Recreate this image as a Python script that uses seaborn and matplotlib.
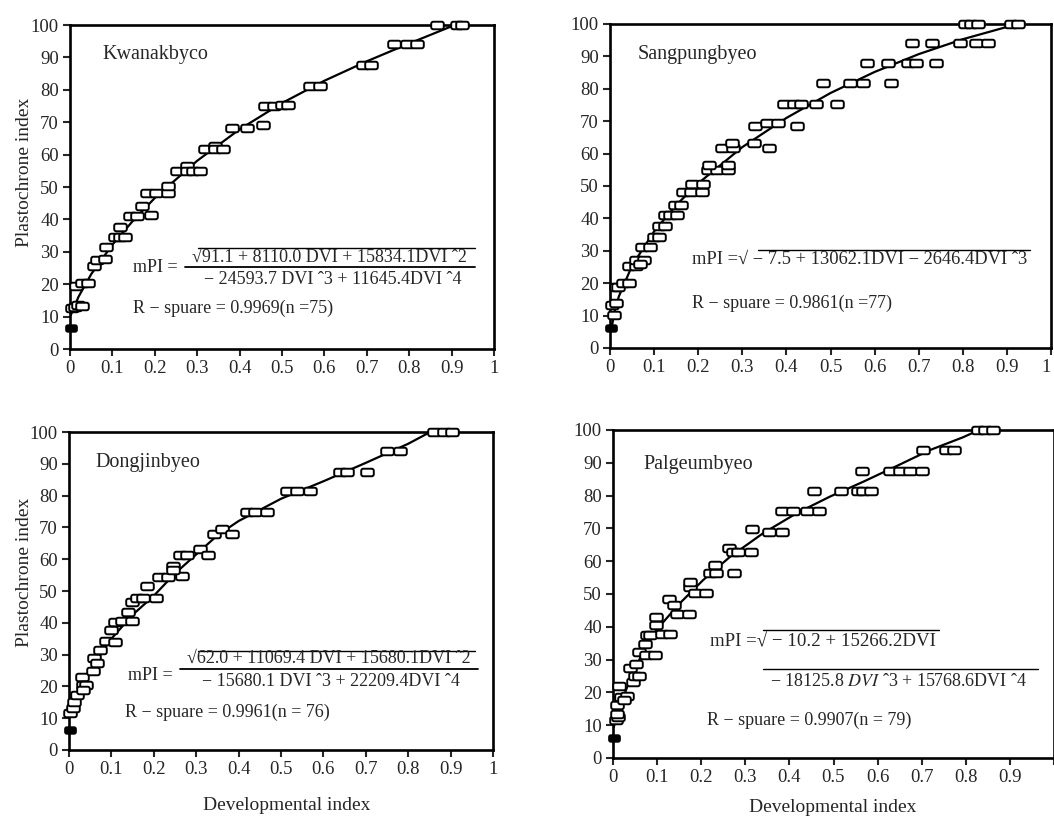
import numpy as np
import pandas as pd
import matplotlib
matplotlib.use("Agg")
import matplotlib.pyplot as plt
import seaborn as sns
from matplotlib.path import Path
from matplotlib.lines import Line2D

# ---------------- data ----------------
x_ticks = [0, 0.1, 0.2, 0.3, 0.4, 0.5, 0.6, 0.7, 0.8, 0.9, 1]
x_tick_labels = ["0", "0.1", "0.2", "0.3", "0.4", "0.5", "0.6", "0.7", "0.8", "0.9", "1"]
y_ticks = [0, 10, 20, 30, 40, 50, 60, 70, 80, 90, 100]

# Kwanakbyco
kw_x = [0.004, 0.012, 0.02, 0.028, 0.014, 0.028, 0.043, 0.057, 0.063, 0.083, 0.085,
        0.106, 0.118, 0.13, 0.118, 0.142, 0.157, 0.169, 0.181, 0.19, 0.204, 0.232, 0.232,
        0.252, 0.275, 0.275, 0.29, 0.307, 0.318, 0.342, 0.342, 0.362, 0.381, 0.417, 0.456,
        0.46, 0.48, 0.499, 0.515, 0.566, 0.59, 0.69, 0.711, 0.763, 0.794, 0.818,
        0.865, 0.912, 0.925]
kw_y = [12.6, 13.0, 13.7, 13.4, 19.5, 20.3, 20.3, 25.5, 27.5, 27.7, 31.4,
        34.5, 34.5, 34.5, 37.6, 41.1, 41.1, 44.0, 48.1, 41.4, 48.1, 48.1, 50.2,
        54.8, 56.6, 54.8, 54.8, 54.8, 61.7, 62.7, 61.7, 61.7, 68.3, 68.3, 69.2,
        75.0, 75.0, 75.2, 75.2, 81.2, 81.2, 87.6, 87.6, 94.0, 94.0, 94.0,
        100, 100, 100]
kw_fill_x = [0.002]
kw_fill_y = [6.5]
kw_curve_x = [0.002, 0.02, 0.05, 0.1, 0.15, 0.2, 0.3, 0.4, 0.5, 0.6, 0.7, 0.8, 0.9, 0.915]
kw_curve_y = [10.5, 16.1, 23.1, 32.2, 39.8, 46.6, 58.1, 67.8, 75.9, 82.8, 88.8, 94.3, 99.6, 100]

# Sangpungbyeo
sp_x = [0.004, 0.008, 0.014, 0.014, 0.019, 0.029, 0.044, 0.044, 0.059, 0.059, 0.077,
        0.068, 0.072, 0.091, 0.1, 0.112, 0.112, 0.125, 0.125, 0.136, 0.151, 0.147, 0.16,
        0.166, 0.183, 0.208, 0.185, 0.21, 0.223, 0.242, 0.268, 0.225, 0.267, 0.253, 0.278,
        0.276, 0.326, 0.329, 0.355, 0.381, 0.361, 0.423, 0.394, 0.417, 0.434, 0.468,
        0.514, 0.483, 0.544, 0.574, 0.638, 0.583, 0.631, 0.676, 0.695, 0.739,
        0.684, 0.731, 0.793, 0.829, 0.857, 0.804, 0.819, 0.835, 0.91, 0.925]
sp_y = [13.4, 10.3, 13.9, 18.8, 18.8, 20.2, 20.2, 25.2, 25.2, 27.2, 27.2,
        26.0, 31.3, 31.3, 34.4, 34.4, 37.7, 37.7, 41.1, 41.1, 41.1, 44.0, 44.0,
        48.0, 48.0, 48.0, 50.6, 50.6, 54.8, 54.8, 54.8, 56.5, 56.5, 61.7, 61.7,
        63.2, 63.2, 68.6, 69.4, 69.4, 61.7, 68.6, 75.3, 75.3, 75.3, 75.3,
        75.3, 81.7, 81.7, 81.7, 81.7, 87.9, 87.9, 87.9, 87.9, 87.9,
        94.0, 94.0, 94.0, 94.0, 94.0, 100, 100, 100, 100, 100]
sp_fill_x = [0.002]
sp_fill_y = [6.2]
sp_curve_x = [0.003, 0.01, 0.02, 0.05, 0.1, 0.15, 0.2, 0.3, 0.4, 0.5, 0.6, 0.7, 0.8, 0.9, 0.925]
sp_curve_y = [5.6, 11.1, 15.9, 25.4, 36.0, 44.1, 50.8, 62.0, 71.0, 78.7, 85.2, 90.7, 95.3, 99.1, 100]

# Dongjinbyeo
dj_x = [0.002, 0.009, 0.012, 0.018, 0.03, 0.034, 0.04, 0.034, 0.056, 0.059, 0.067, 0.073,
        0.087, 0.109, 0.1, 0.109, 0.124, 0.148, 0.14, 0.148, 0.16, 0.175, 0.183, 0.205,
        0.213, 0.234, 0.245, 0.266, 0.246, 0.262, 0.278, 0.309, 0.329, 0.341, 0.36, 0.384,
        0.419, 0.439, 0.467, 0.514, 0.537, 0.569, 0.64, 0.655, 0.703, 0.75, 0.781,
        0.86, 0.884, 0.903]
dj_y = [11.5, 13.1, 15.2, 17.3, 23.1, 20.5, 20.5, 18.9, 25.0, 28.9, 27.3, 31.3,
        34.4, 34.1, 37.6, 40.4, 40.7, 40.7, 43.5, 46.4, 47.7, 47.7, 51.7, 47.7,
        54.4, 54.4, 58.0, 54.6, 56.5, 61.4, 61.4, 63.2, 61.4, 67.9, 69.5, 67.9,
        75.0, 75.0, 75.0, 81.6, 81.6, 81.6, 87.3, 87.3, 87.3, 93.9, 93.9,
        100, 100, 100]
dj_fill_x = [0.002]
dj_fill_y = [6.3]
dj_curve_x = [0.002, 0.02, 0.05, 0.1, 0.15, 0.2, 0.25, 0.3, 0.35, 0.4, 0.5, 0.6, 0.7, 0.8, 0.852]
dj_curve_y = [10.5, 17.5, 25.0, 35.0, 42.5, 48.5, 55.5, 61.5, 67.5, 72.0, 79.0, 84.5, 90.3, 96.3, 100]

# Palgeumbyeo
pg_x = [0.006, 0.011, 0.008, 0.009, 0.014, 0.019, 0.032, 0.026, 0.038, 0.045, 0.051, 0.06,
        0.053, 0.059, 0.072, 0.076, 0.083, 0.074, 0.095, 0.097, 0.097, 0.11, 0.129,
        0.127, 0.144, 0.138, 0.172, 0.174, 0.174, 0.185, 0.212, 0.219, 0.234, 0.231,
        0.263, 0.272, 0.284, 0.274, 0.312, 0.316, 0.354, 0.384, 0.384, 0.408, 0.439, 0.468,
        0.455, 0.518, 0.556, 0.567, 0.586, 0.564, 0.628, 0.65, 0.673, 0.7,
        0.702, 0.756, 0.773, 0.828, 0.843, 0.862]
pg_y = [11.5, 12.5, 13.5, 16.1, 21.9, 18.6, 18.8, 17.6, 27.3, 23.2, 24.9, 24.9,
        28.8, 32.3, 34.9, 37.4, 37.4, 31.3, 31.3, 40.7, 43.0, 37.9, 37.9,
        48.6, 44.0, 46.6, 44.0, 52.2, 53.7, 50.4, 50.4, 56.5, 56.5, 58.8,
        63.9, 62.9, 62.9, 56.3, 62.9, 69.7, 69.0, 69.0, 75.4, 75.4, 75.4, 75.4,
        81.5, 81.5, 81.5, 81.5, 81.5, 87.6, 87.6, 87.6, 87.6, 87.6,
        93.9, 93.9, 93.9, 100, 100, 100]
pg_fill_x = [0.002]
pg_fill_y = [6.1]
pg_curve_x = [0.002, 0.015, 0.038, 0.068, 0.098, 0.151, 0.204, 0.265, 0.34, 0.416, 0.492,
              0.567, 0.643, 0.719, 0.794, 0.83]
pg_curve_y = [9.5, 15.6, 23.7, 32.3, 39.0, 47.1, 54.2, 61.3, 68.5, 74.6, 79.7,
              84.2, 89.0, 93.9, 97.8, 100]

# ---------------- styling ----------------
sns.set_style("ticks")
plt.rcParams["font.family"] = ["Liberation Serif", "DejaVu Serif"]
plt.rcParams["mathtext.fontset"] = "stix"

W, H = 1054, 817
fig = plt.figure(figsize=(W / 100, H / 100), dpi=100)


def fx(px):
    return px / W


def fy(py):
    return 1 - py / H


def rounded_rect(w=1.0, h=0.6, r=0.32, n=5):
    pts = []
    for cx, cy, a0 in [(w - r, h - r, 0), (-w + r, h - r, 90), (-w + r, -h + r, 180), (w - r, -h + r, 270)]:
        for t in np.linspace(np.radians(a0), np.radians(a0 + 90), n):
            pts.append((cx + r * np.cos(t), cy + r * np.sin(t)))
    pts.append(pts[0])
    return Path(pts, closed=True)


MK = rounded_rect()

panels = [
    dict(rect=(70, 349, 424, 324), x=kw_x, y=kw_y, fx_=kw_fill_x, fy_=kw_fill_y, cx=kw_curve_x, cy=kw_curve_y, last="right"),
    dict(rect=(610, 348, 441, 324), x=sp_x, y=sp_y, fx_=sp_fill_x, fy_=sp_fill_y, cx=sp_curve_x, cy=sp_curve_y, last="edge"),
    dict(rect=(69, 750, 424, 318), x=dj_x, y=dj_y, fx_=dj_fill_x, fy_=dj_fill_y, cx=dj_curve_x, cy=dj_curve_y, last="right"),
    dict(rect=(613, 758, 441, 328), x=pg_x, y=pg_y, fx_=pg_fill_x, fy_=pg_fill_y, cx=pg_curve_x, cy=pg_curve_y, last="hide"),
]

for p in panels:
    l, b, w, h = p["rect"]
    ax = fig.add_axes([fx(l), fy(b), w / W, h / H])
    sns.lineplot(x=p["cx"], y=p["cy"], ax=ax, color="black", linewidth=1.6,
                 sort=False, estimator=None, zorder=2)
    sns.scatterplot(x=p["x"], y=p["y"], ax=ax, marker=MK, s=82, color="white",
                    edgecolor="black", linewidth=1.4, clip_on=False, zorder=3)
    sns.scatterplot(x=p["fx_"], y=p["fy_"], ax=ax, marker=MK, s=60, color="black",
                    edgecolor="black", linewidth=1.4, clip_on=False, zorder=3)
    ax.set_xlim(0, 1)
    ax.set_ylim(0, 100)
    ax.set_xticks(x_ticks)
    labels = list(x_tick_labels)
    if p["last"] == "hide":
        labels[-1] = ""
    ax.set_xticklabels(labels)
    ax.set_yticks(y_ticks)
    ax.tick_params(direction="out", length=5, width=1.5, labelsize=13.5, pad=3)
    if p["last"] == "edge":
        ax.get_xticklabels()[-1].set_horizontalalignment("right")
    for s in ax.spines.values():
        s.set_visible(True)
        s.set_linewidth(1.9)
        s.set_color("black")
    ax.set_xlabel("")
    ax.set_ylabel("")

TF = dict(fontsize=13, va="center", ha="left")


def hline(x0, x1, y, lw=1.0):
    fig.add_artist(Line2D([fx(x0), fx(x1)], [fy(y), fy(y)], color="black", lw=lw,
                          transform=fig.transFigure))


# panel titles
fig.text(fx(102), fy(55), "Kwanakbyco", fontsize=14.5, va="center", ha="left")
fig.text(fx(638), fy(55), "Sangpungbyeo", fontsize=14.5, va="center", ha="left")
fig.text(fx(95), fy(463), "Dongjinbyeo", fontsize=14.5, va="center", ha="left")
fig.text(fx(643), fy(465), "Palgeumbyeo", fontsize=14.5, va="center", ha="left")

# panel 1 equation
fig.text(fx(133), fy(268), "mPI =", **TF)
fig.text(fx(329), fy(257), "√91.1 + 8110.0 DVI + 15834.1DVI ˆ2", fontsize=13, va="center", ha="center")
hline(198, 475, 248)
hline(185, 475, 267, 1.3)
fig.text(fx(333), fy(279), "− 24593.7 DVI ˆ3 + 11645.4DVI ˆ4", fontsize=13, va="center", ha="center")
fig.text(fx(133), fy(308), "R − spuare = 0.9969(n =75)", **TF)

# panel 2 equation
fig.text(fx(692), fy(259), "mPI =√ − 7.5 + 13062.1DVI − 2646.4DVI ˆ3", fontsize=13.3, va="center", ha="left")
hline(758, 1030, 250)
fig.text(fx(692), fy(303), "R − spuare = 0.9861(n =77)", **TF)

# panel 3 equation
fig.text(fx(128), fy(675), "mPI =", **TF)
fig.text(fx(329), fy(658), "√62.0 + 11069.4 DVI + 15680.1DVI ˆ2", fontsize=13, va="center", ha="center")
hline(198, 475, 651)
hline(180, 478, 669, 1.3)
fig.text(fx(331), fy(681), "− 15680.1 DVI ˆ3 + 22209.4DVI ˆ4", fontsize=13, va="center", ha="center")
fig.text(fx(125), fy(712), "R − spuare = 0.9961(n = 76)", **TF)

# panel 4 equation
fig.text(fx(710), fy(642), "mPI =√ − 10.2 + 15266.2DVI", fontsize=13.6, va="center", ha="left")
hline(763, 939, 630)
hline(763, 1038, 669)
fig.text(fx(770), fy(682), "− 18125.8 $\\it{DVI}$ ˆ3 + 15768.6DVI ˆ4", **TF)
fig.text(fx(707), fy(720), "R − spuare = 0.9907(n = 79)", **TF)

# axis labels
fig.text(fx(25), fy(172), "Plastochrone index", fontsize=14, rotation=90, va="center", ha="center")
fig.text(fx(25), fy(572), "Plastochrone index", fontsize=14, rotation=90, va="center", ha="center")
fig.text(fx(287), fy(805), "Developmental index", fontsize=14, va="center", ha="center")
fig.text(fx(833), fy(807), "Developmental index", fontsize=14, va="center", ha="center")

fig.savefig("out.png", dpi=100, facecolor="white")
